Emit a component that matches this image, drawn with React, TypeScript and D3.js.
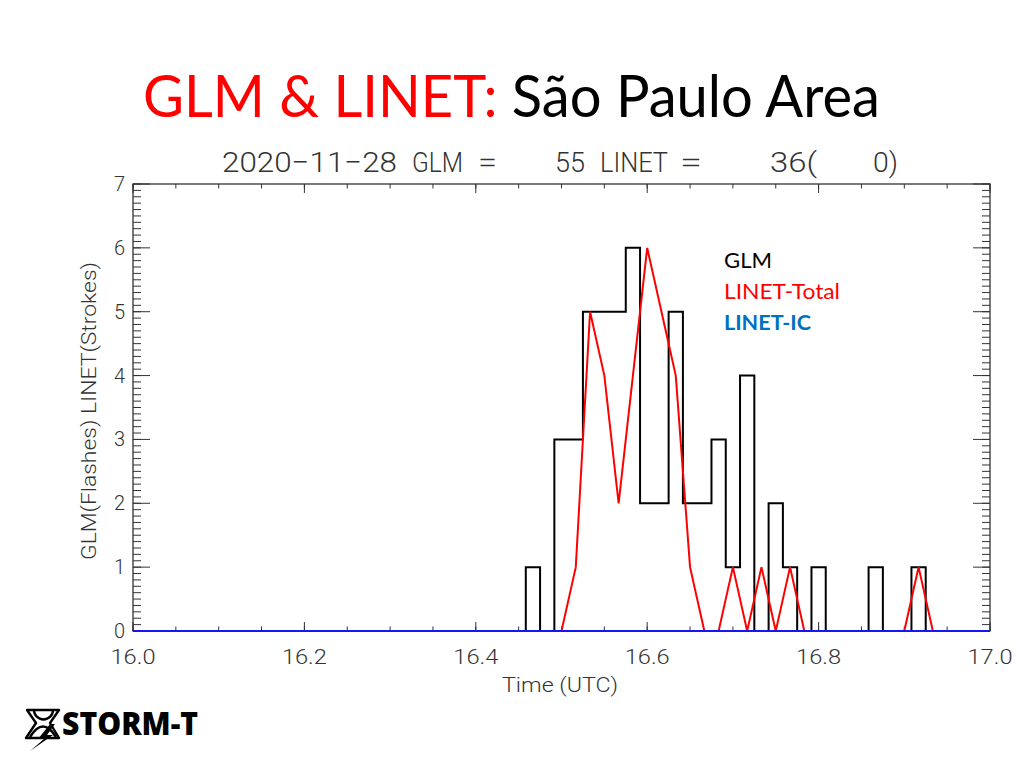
import React from 'react';
import * as d3 from 'd3';

// one value per minute, 16:00 .. 17:00 UTC
const glmFlashes = [
  0, 0, 0, 0, 0, 0, 0, 0, 0, 0,
  0, 0, 0, 0, 0, 0, 0, 0, 0, 0,
  0, 0, 0, 0, 0, 0, 0, 0, 1, 0,
  3, 3, 5, 5, 5, 6, 2, 2, 5, 2,
  2, 3, 1, 4, 0, 2, 1, 0, 1, 0,
  0, 0, 1, 0, 0, 1, 0, 0, 0, 0,
  0,
];
const linetTotal = [
  0, 0, 0, 0, 0, 0, 0, 0, 0, 0,
  0, 0, 0, 0, 0, 0, 0, 0, 0, 0,
  0, 0, 0, 0, 0, 0, 0, 0, 0, 0,
  0, 1, 5, 4, 2, 4, 6, 5, 4, 1,
  0, 0, 1, 0, 1, 0, 1, 0, 0, 0,
  0, 0, 0, 0, 0, 1, 0, 0, 0, 0,
  0,
];
const linetIC = [
  0, 0, 0, 0, 0, 0, 0, 0, 0, 0,
  0, 0, 0, 0, 0, 0, 0, 0, 0, 0,
  0, 0, 0, 0, 0, 0, 0, 0, 0, 0,
  0, 0, 0, 0, 0, 0, 0, 0, 0, 0,
  0, 0, 0, 0, 0, 0, 0, 0, 0, 0,
  0, 0, 0, 0, 0, 0, 0, 0, 0, 0,
  0,
];
const timeDomain = [16, 17];
const countDomain = [0, 7];
const legendLabels = ['GLM', 'LINET-Total', 'LINET-IC'];

const idlFont = 'Roboto, "DejaVu Sans", sans-serif';
const idlColor = '#333';

export default function App() {
  const left = 133, right = 990, top = 184, bottom = 631;

  const x = d3.scaleLinear().domain(timeDomain).range([left, right]);
  const y = d3.scaleLinear().domain(countDomain).range([bottom, top]);

  const toPoints = (vals: number[]) => vals.map((v, i) => [timeDomain[0] + i / 60, v] as [number, number]);

  const stepLine = d3.line<[number, number]>()
    .x(d => x(d[0]))
    .y(d => y(d[1]))
    .curve(d3.curveStep);
  const plainLine = d3.line<[number, number]>()
    .x(d => x(d[0]))
    .y(d => y(d[1]));

  const xMajor = x.ticks(5);
  const xMinor = x.ticks(20);
  const yMajor = y.ticks(7);
  const yMinor = y.ticks(70);

  return (
    <div style={{ position: 'absolute', left: 0, top: 0 }}>
      <svg width={1024} height={768} viewBox="0 0 1024 768" style={{ display: 'block', background: '#fff' }}>
        {/* slide title */}
        <text x={143} y={117} fontFamily="Lato, sans-serif" fontSize={58} textLength={737} lengthAdjust="spacingAndGlyphs">
          <tspan fill="#ff0000">GLM &amp; LINET:</tspan>
          <tspan fill="#000"> São Paulo Area</tspan>
        </text>

        {/* IDL plot title */}
        <g fontFamily={idlFont} fontWeight={300} fontSize={28} fill={idlColor}>
          <text x={222} y={172} textLength={175} lengthAdjust="spacingAndGlyphs">2020−11−28</text>
          <text x={412} y={172} textLength={51} lengthAdjust="spacingAndGlyphs">GLM</text>
          <text x={478} y={172} textLength={19} lengthAdjust="spacingAndGlyphs">=</text>
          <text x={555} y={172} textLength={30} lengthAdjust="spacingAndGlyphs">55</text>
          <text x={600} y={172} textLength={68} lengthAdjust="spacingAndGlyphs">LINET</text>
          <text x={680} y={172} textLength={22} lengthAdjust="spacingAndGlyphs">=</text>
          <text x={770} y={172} textLength={47} lengthAdjust="spacingAndGlyphs">36(</text>
          <text x={873} y={172} textLength={25} lengthAdjust="spacingAndGlyphs">0)</text>
        </g>

        {/* ticks */}
        <g stroke={idlColor} strokeWidth={1}>
          {yMinor.map((t, i) => (
            <g key={'ym' + i}>
              <line x1={left} x2={left + 8} y1={y(t)} y2={y(t)} />
              <line x1={right} x2={right - 8} y1={y(t)} y2={y(t)} />
            </g>
          ))}
          {yMajor.map((t, i) => (
            <g key={'yM' + i}>
              <line x1={left} x2={left + 17} y1={y(t)} y2={y(t)} />
              <line x1={right} x2={right - 17} y1={y(t)} y2={y(t)} />
            </g>
          ))}
          {xMinor.map((t, i) => (
            <g key={'xm' + i}>
              <line x1={x(t)} x2={x(t)} y1={bottom} y2={bottom - 4.5} />
              <line x1={x(t)} x2={x(t)} y1={top} y2={top + 4.5} />
            </g>
          ))}
          {xMajor.map((t, i) => (
            <g key={'xM' + i}>
              <line x1={x(t)} x2={x(t)} y1={bottom} y2={bottom - 9} />
              <line x1={x(t)} x2={x(t)} y1={top} y2={top + 9} />
            </g>
          ))}
        </g>
        <rect x={left} y={top} width={right - left} height={bottom - top} fill="none" stroke={idlColor} strokeWidth={1.3} />

        {/* tick labels */}
        <g fontFamily={idlFont} fontWeight={300} fontSize={20} fill={idlColor}>
          {yMajor.map((t, i) => (
            <text key={'yl' + i} x={125} y={y(t) + 7} textAnchor="end">{d3.format('d')(t)}</text>
          ))}
          {xMajor.map((t, i) => (
            <text key={'xl' + i} x={x(t)} y={664} textAnchor="middle" textLength={45} lengthAdjust="spacingAndGlyphs">{d3.format('.1f')(t)}</text>
          ))}
          <text x={560} y={692} textAnchor="middle" textLength={116} lengthAdjust="spacingAndGlyphs">Time (UTC)</text>
          <text transform="translate(96,411) rotate(-90)" textAnchor="middle" textLength={298} lengthAdjust="spacingAndGlyphs">
            GLM(Flashes) LINET(Strokes)
          </text>
        </g>

        {/* series */}
        <path d={stepLine(toPoints(glmFlashes)) || ''} fill="none" stroke="#000" strokeWidth={2} />
        <path d={plainLine(toPoints(linetTotal)) || ''} fill="none" stroke="#ff0000" strokeWidth={2} />
        <path d={plainLine(toPoints(linetIC)) || ''} fill="none" stroke="#1515f5" strokeWidth={2.2} />

        {/* legend */}
        <g fontFamily="Lato, sans-serif" fontSize={21} fontWeight={400}>
          <text x={724} y={268} fill="#000" textLength={48} lengthAdjust="spacingAndGlyphs">{legendLabels[0]}</text>
          <text x={724} y={299} fill="#ff0000" textLength={116} lengthAdjust="spacingAndGlyphs">{legendLabels[1]}</text>
          <text x={724} y={330} fill="#0070c0" fontWeight={700} textLength={87} lengthAdjust="spacingAndGlyphs">{legendLabels[2]}</text>
        </g>

        {/* STORM-T logo */}
        <g stroke="#000" strokeWidth={2.4} fill="none" strokeLinejoin="round">
          <path d="M27,710 H59 L50,723 L59,738 H26 L36,723 Z" />
          <path d="M34,710 A9.5,9.5 0 0 0 53,710" />
          <path d="M30,737 Q43,716 56,737" />
        </g>
        <path d="M50,724 L38,739 L44,739 L30,751 L53,735 L47,735 L55,724 Z" fill="#000" />
        <text x={62} y={735} fontFamily="'Open Sans', sans-serif" fontWeight={800} fontSize={31} fill="#000" textLength={136} lengthAdjust="spacingAndGlyphs">STORM-T</text>
      </svg>
    </div>
  );
}
